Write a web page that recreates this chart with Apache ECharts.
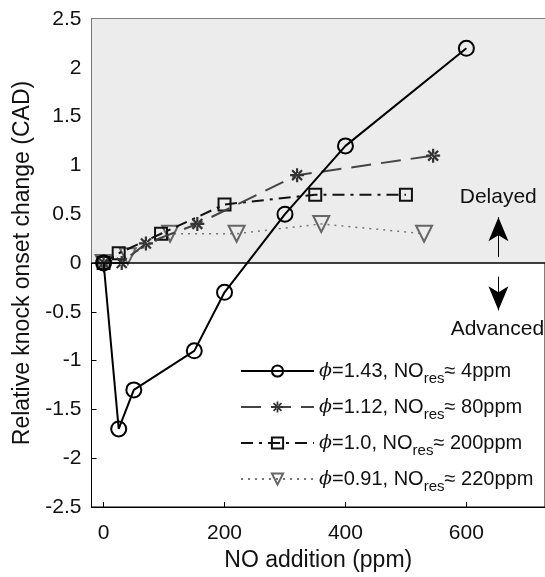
<!DOCTYPE html>
<html><head><meta charset="utf-8">
<script src="https://cdn.jsdelivr.net/npm/echarts@6/dist/echarts.min.js"></script>
<style>html,body{margin:0;padding:0;background:#fff}#c{width:545px;height:577px}</style>
</head><body><div id="c"></div>
<script>
// data
const x143 = [0, 25, 50, 150, 200, 300, 400, 600];
const y143 = [0, -1.7, -1.3, -0.9, -0.3, 0.5, 1.2, 2.2];
const x112 = [0, 30, 70, 155, 320, 545];
const y112 = [0, 0, 0.2, 0.4, 0.9, 1.1];
const x100 = [0, 25, 95, 200, 350, 500];
const y100 = [0, 0.1, 0.3, 0.6, 0.7, 0.7];
const x091 = [0, 40, 110, 220, 360, 530];
const y091 = [0, 0.07, 0.3, 0.3, 0.4, 0.3];
const seriesNames = ['s143', 's112', 's100', 's091'];
const legendLabels = [
  '{phi|ϕ}=1.43, NO{sub|res}≈ 4ppm',
  '{phi|ϕ}=1.12, NO{sub|res}≈ 80ppm',
  '{phi|ϕ}=1.0, NO{sub|res}≈ 200ppm',
  '{phi|ϕ}=0.91, NO{sub|res}≈ 220ppm'
];
const xRange = [-20, 730];
const yRange = [-2.5, 2.5];
const yStep = 0.5;
const arrowX = 653;
const upArrow = [0.06, 0.47];
const downArrow = [-0.14, -0.485];
const delayedPos = [589, 0.676];
const advancedPos = [574, -0.68];

function pairs(xs, ys) { return xs.map((x, i) => [x, ys[i]]); }

const asterisk = 'path://M-1,-0.16L1,-0.16L1,0.16L-1,0.16Z M-0.16,-1L0.16,-1L0.16,1L-0.16,1Z M-0.594,-0.820L0.820,0.594L0.594,0.820L-0.820,-0.594Z M-0.594,0.820L0.820,-0.594L0.594,-0.820L-0.820,0.594Z';

const chart = echarts.init(document.getElementById('c'));
const option = {
  animation: false,
  textStyle: { fontFamily: 'Liberation Sans' },
  grid: { left: 91.5, top: 19, bottom: 70, right: -3, show: true, borderColor: '#000', borderWidth: 1, backgroundColor: 'transparent' },
  xAxis: {
    type: 'value', min: xRange[0], max: xRange[1],
    axisLine: { show: true, onZero: false, lineStyle: { color: '#000', width: 1 } },
    axisTick: { show: true, inside: true, length: 5, lineStyle: { color: '#000' } },
    axisLabel: { fontSize: 21, color: '#111', margin: 16, showMinLabel: false, showMaxLabel: false },
    splitLine: { show: false },
    name: 'NO addition (ppm)', nameLocation: 'middle', nameGap: 40,
    nameTextStyle: { fontSize: 23, color: '#111' }
  },
  yAxis: {
    type: 'value', min: yRange[0], max: yRange[1], interval: yStep,
    axisLine: { show: true, onZero: false, lineStyle: { color: '#000', width: 1 } },
    axisTick: { show: true, inside: true, length: 5, lineStyle: { color: '#000' } },
    axisLabel: { fontSize: 21, color: '#111', margin: 10 },
    splitLine: { show: false },
    name: 'Relative knock onset change (CAD)', nameLocation: 'middle', nameGap: 55,
    nameTextStyle: { fontSize: 23, color: '#111' }
  },
  legend: {
    data: seriesNames, orient: 'vertical', left: 235, top: 351,
    itemWidth: 73, itemHeight: 14, itemGap: 6, symbolRotate: 'inherit',
    formatter: n => legendLabels[seriesNames.indexOf(n)],
    textStyle: {
      fontSize: 20, color: '#111', lineHeight: 30,
      rich: {
        phi: { fontFamily: 'DejaVu Serif', fontStyle: 'italic', fontSize: 19, lineHeight: 30, color: '#111' },
        sub: { fontSize: 15, lineHeight: 12, verticalAlign: 'bottom', color: '#111' }
      }
    }
  },
  series: [
    {
      name: 'bg', type: 'line', data: [], z: 0, silent: true,
      markArea: { silent: true, itemStyle: { color: '#ececec' },
        data: [[{ coord: [xRange[0], 0] }, { coord: [xRange[1], yRange[1]] }]] },
      markLine: { silent: true, symbol: 'none', label: { show: false },
        lineStyle: { color: '#000', width: 1.5, type: 'solid' },
        data: [{ yAxis: 0 }] }
    },
    {
      name: seriesNames[0], type: 'line', data: pairs(x143, y143),
      symbol: 'circle', symbolSize: 15,
      lineStyle: { color: '#000', width: 2, type: 'solid' },
      itemStyle: { color: 'rgba(0,0,0,0)', borderColor: '#000', borderWidth: 2 },
      z: 5
    },
    {
      name: seriesNames[1], type: 'line', data: pairs(x112, y112),
      symbol: asterisk, symbolSize: 14,
      lineStyle: { color: '#444', width: 2, type: [20, 10] },
      itemStyle: { color: '#333', borderWidth: 0 },
      z: 4,
      markLine: { silent: true, label: { show: false },
        lineStyle: { color: '#000', width: 1, type: 'solid' },
        symbol: ['none', 'arrow'],
        data: [
          [{ coord: [arrowX, upArrow[0]], symbol: 'none' }, { coord: [arrowX, upArrow[1]], symbol: 'arrow', symbolSize: [15, 24] }],
          [{ coord: [arrowX, downArrow[0]], symbol: 'none' }, { coord: [arrowX, downArrow[1]], symbol: 'arrow', symbolSize: [15, 24] }]
        ] }
    },
    {
      name: seriesNames[2], type: 'line', data: pairs(x100, y100),
      symbol: 'rect', symbolSize: 12,
      lineStyle: { color: '#111', width: 2, type: [12, 6, 3, 6] },
      itemStyle: { color: 'rgba(0,0,0,0)', borderColor: '#111', borderWidth: 2 },
      z: 3,
      markPoint: { silent: true, symbol: 'circle', symbolSize: 0,
        label: { show: true, position: 'right', distance: 0, formatter: '{b}', fontSize: 21, color: '#111' },
        data: [
          { name: 'Delayed', coord: delayedPos },
          { name: 'Advanced', coord: advancedPos }
        ] }
    },
    {
      name: seriesNames[3], type: 'line', data: pairs(x091, y091),
      symbol: 'triangle', symbolRotate: 180, symbolSize: 16,
      lineStyle: { color: '#777', width: 1.5, type: [2, 5] },
      itemStyle: { color: 'rgba(0,0,0,0)', borderColor: '#666', borderWidth: 2 },
      z: 2
    }
  ]
};
chart.setOption(option);
</script>
</body></html>
